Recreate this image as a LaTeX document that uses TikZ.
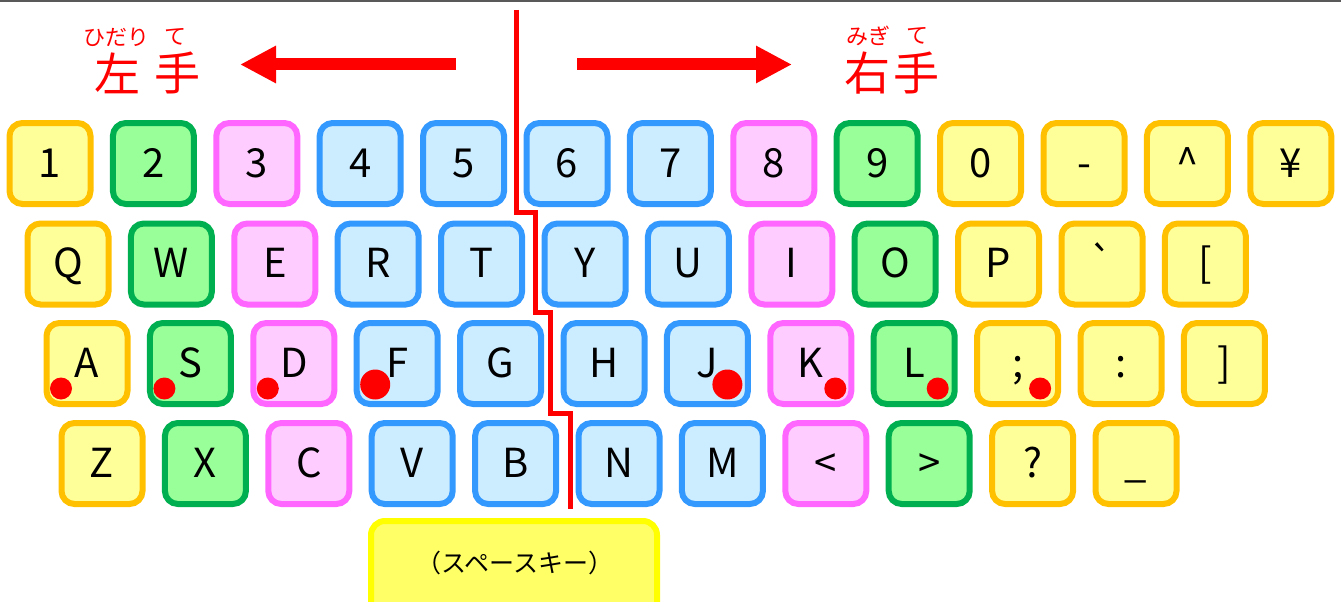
\documentclass[tikz,border=0pt]{standalone}
\usepackage{fontspec}
\setmainfont{Noto Sans CJK JP}
\usetikzlibrary{arrows.meta,calc}
\definecolor{ybd}{HTML}{FFC000}\definecolor{yfl}{HTML}{FFFF99}
\definecolor{gbd}{HTML}{00B050}\definecolor{gfl}{HTML}{99FF99}
\definecolor{pbd}{HTML}{FF66FF}\definecolor{pfl}{HTML}{FFCCFF}
\definecolor{bbd}{HTML}{3399FF}\definecolor{bfl}{HTML}{CCECFF}
\definecolor{sbd}{HTML}{FFFF00}\definecolor{sfl}{HTML}{FFFF66}
\definecolor{topline}{HTML}{595959}
\begin{document}
\begin{tikzpicture}[x=1pt,y=-1pt,
  key/.style={draw, line width=6pt, rounded corners=13pt, minimum width=81pt, minimum height=81pt, inner sep=0pt, text height=27pt, text depth=0pt, font=\fontsize{40}{40}\selectfont},
  ykey/.style={key, draw=ybd, fill=yfl},
  gkey/.style={key, draw=gbd, fill=gfl},
  pkey/.style={key, draw=pbd, fill=pfl},
  bkey/.style={key, draw=bbd, fill=bfl},
  sdot/.style={fill=red},
  kanji/.style={text=red, inner sep=0pt, font=\fontsize{46}{46}\selectfont},
  ruby/.style={text=red, inner sep=0pt, font=\fontsize{22}{22}\selectfont},
  bigarrow/.style={draw=red, line width=12pt, -{Triangle[length=36pt,width=35pt]}},
  divider/.style={draw=red, line width=5pt, line join=miter}
]
\useasboundingbox (0,0) rectangle (1341,602);
\clip (0,0) rectangle (1341,602);
\draw[topline, line width=2pt] (0,1) -- (1341,1);

% row 1
\node[ykey] (k1) at (50,163.5) {1};
\node[gkey] (k2) at (153.4,163.5) {2};
\node[pkey] (k3) at (256.8,163.5) {3};
\node[bkey] (k4) at (360.2,163.5) {4};
\node[bkey] (k5) at (463.6,163.5) {5};
\node[bkey] (k6) at (567,163.5) {6};
\node[bkey] (k7) at (670.4,163.5) {7};
\node[pkey] (k8) at (773.8,163.5) {8};
\node[gkey] (k9) at (877.2,163.5) {9};
\node[ykey] (k0) at (980.6,163.5) {0};
\node[ykey] (kminus) at (1084,163.5) {-};
\node[ykey] (kcaret) at (1187.4,163.5) {\textasciicircum};
\node[ykey] (kyen) at (1290.8,163.5) {¥};
% row 2
\node[ykey] (kQ) at (68,264) {Q};
\node[gkey] (kW) at (171.4,264) {W};
\node[pkey] (kE) at (274.8,264) {E};
\node[bkey] (kR) at (378.2,264) {R};
\node[bkey] (kT) at (481.6,264) {T};
\node[bkey] (kY) at (585,264) {Y};
\node[bkey] (kU) at (688.4,264) {U};
\node[pkey] (kI) at (791.8,264) {I};
\node[gkey] (kO) at (895.2,264) {O};
\node[ykey] (kP) at (998.6,264) {P};
\node[ykey] (kgrave) at (1102,264) {\textasciigrave};
\node[ykey] (klbr) at (1205.4,264) {[};
% row 3
\node[ykey] (kA) at (87,363.5) {A};
\node[gkey] (kS) at (190.4,363.5) {S};
\node[pkey] (kD) at (293.8,363.5) {D};
\node[bkey] (kF) at (397.2,363.5) {F};
\node[bkey] (kG) at (500.6,363.5) {G};
\node[bkey] (kH) at (604,363.5) {H};
\node[bkey] (kJ) at (707.4,363.5) {J};
\node[pkey] (kK) at (810.8,363.5) {K};
\node[gkey] (kL) at (914.2,363.5) {L};
\node[ykey] (ksemi) at (1017.6,363.5) {;};
\node[ykey] (kcolon) at (1121,363.5) {:};
\node[ykey] (krbr) at (1224.4,363.5) {]};
% row 4
\node[ykey] (kZ) at (102,463.5) {Z};
\node[gkey] (kX) at (205.4,463.5) {X};
\node[pkey] (kC) at (308.8,463.5) {C};
\node[bkey] (kV) at (412.2,463.5) {V};
\node[bkey] (kB) at (515.6,463.5) {B};
\node[bkey] (kN) at (619,463.5) {N};
\node[bkey] (kM) at (722.4,463.5) {M};
\node[pkey] (klt) at (825.8,463.5) {<};
\node[gkey] (kgt) at (929.2,463.5) {>};
\node[ykey] (kq) at (1032.6,463.5) {?};
\node[ykey] (kus) at (1136,463.5) {\_};

% home position dots
\fill[sdot] ($(kA)+(-26,25)$) circle[radius=11pt];
\fill[sdot] ($(kS)+(-26,25)$) circle[radius=11pt];
\fill[sdot] ($(kD)+(-26,25)$) circle[radius=11pt];
\fill[sdot] ($(kF)+(-22,21)$) circle[radius=15pt];
\fill[sdot] ($(kJ)+(20,21)$) circle[radius=15pt];
\fill[sdot] ($(kK)+(24.5,25)$) circle[radius=11pt];
\fill[sdot] ($(kL)+(23.5,25)$) circle[radius=11pt];
\fill[sdot] ($(ksemi)+(22.5,25)$) circle[radius=11pt];

% space key
\node[draw=sbd, fill=sfl, line width=6pt, rounded corners=14pt, minimum width=286pt, minimum height=110pt, inner sep=0pt] (space) at (514,576) {};
\node[inner sep=0pt, font=\fontsize{25}{25}\selectfont] (spacelabel) at (515,563) {（スペースキー）};

% divider line
\draw[divider] (516,10) -- (516,212) -- (535,212) -- (535,312) -- (550,312) -- (550,413) -- (570,413) -- (570,509);

% arrows
\coordinate (la0) at (456,64.5);
\coordinate (la1) at (240,64.5);
\coordinate (ra0) at (577,64.5);
\coordinate (ra1) at (792,64.5);
\draw[bigarrow] (la0) -- (la1);
\draw[bigarrow] (ra0) -- (ra1);

% hand labels
\node[kanji] (hidari) at (117,73) {左};
\node[kanji] (lte) at (177,73) {手};
\node[ruby] (hidariruby) at (116,37) {ひだり};
\node[ruby] (lteruby) at (175,37) {て};
\node[kanji] (migi) at (867,73) {右};
\node[kanji] (rte) at (916,73) {手};
\node[ruby] (migiruby) at (868,36) {みぎ};
\node[ruby] (rteruby) at (917,36) {て};
\end{tikzpicture}
\end{document}
